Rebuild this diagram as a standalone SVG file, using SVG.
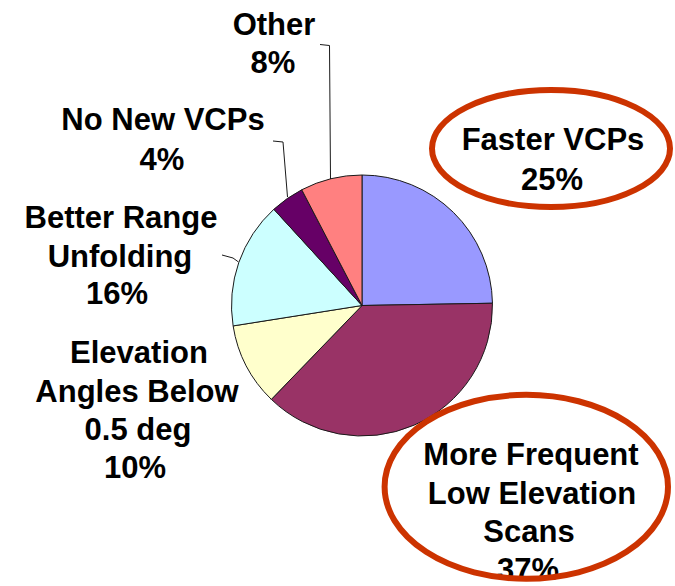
<svg xmlns="http://www.w3.org/2000/svg" width="675" height="586" viewBox="0 0 675 586">
<style>
.lbl{font-family:"Liberation Sans",Arial,sans-serif;font-weight:bold;font-size:31px;fill:#000;text-anchor:middle}
.sl{stroke:#1a1a1a;stroke-width:1;stroke-linejoin:round}
.lead{fill:none;stroke:#1a1a1a;stroke-width:1}
.hl{fill:none;stroke:#CC3300;stroke-width:6}
</style>
<rect width="675" height="586" fill="#fff"/>
<g id="pie">
<path id="s-faster" class="sl" fill="#9999FF" d="M362,305.5 L362,175 A130.5,130.5 0 0 1 492.48,303.22 Z"/>
<path id="s-more" class="sl" fill="#993366" d="M362,305.5 L492.48,303.22 A130.5,130.5 0 0 1 271.34,399.37 Z"/>
<path id="s-elev" class="sl" fill="#FFFFCC" d="M362,305.5 L271.34,399.37 A130.5,130.5 0 0 1 233.11,325.91 Z"/>
<path id="s-better" class="sl" fill="#CCFFFF" d="M362,305.5 L233.11,325.91 A130.5,130.5 0 0 1 273.83,209.28 Z"/>
<path id="s-nonew" class="sl" fill="#660066" d="M362,305.5 L273.83,209.28 A130.5,130.5 0 0 1 301.75,189.75 Z"/>
<path id="s-other" class="sl" fill="#FF8080" d="M362,305.5 L301.75,189.75 A130.5,130.5 0 0 1 362,175 Z"/>
</g>
<g id="connectors">
<path class="lead" d="M320,44.5 L329.5,45.5 L330.5,179"/>
<path class="lead" d="M273,141 L283,142 L287.5,197"/>
<path class="lead" d="M222,255 L233,258 L238.5,262"/>
</g>
<g id="label-other">
<text class="lbl" x="274" y="35">Other</text>
<text class="lbl" x="273" y="73">8%</text>
</g>
<g id="label-nonew">
<text class="lbl" x="163" y="130">No New VCPs</text>
<text class="lbl" x="162" y="170">4%</text>
</g>
<g id="label-better">
<text class="lbl" x="121" y="228">Better Range</text>
<text class="lbl" x="120" y="266.5">Unfolding</text>
<text class="lbl" x="117" y="304">16%</text>
</g>
<g id="label-elev">
<text class="lbl" x="139" y="363">Elevation</text>
<text class="lbl" x="137" y="401.5">Angles Below</text>
<text class="lbl" x="138" y="440">0.5 deg</text>
<text class="lbl" x="135" y="478">10%</text>
</g>
<g id="label-faster">
<text class="lbl" x="553" y="150">Faster VCPs</text>
<text class="lbl" x="552" y="190">25%</text>
<ellipse class="hl" cx="551" cy="148.5" rx="119" ry="58.5"/>
</g>
<g id="label-more">
<text class="lbl" x="531" y="465">More Frequent</text>
<text class="lbl" x="532" y="503.5">Low Elevation</text>
<text class="lbl" x="529" y="541.5">Scans</text>
<text class="lbl" x="528" y="580">37%</text>
<ellipse class="hl" cx="526.3" cy="486.8" rx="141.7" ry="92"/>
</g>
</svg>
